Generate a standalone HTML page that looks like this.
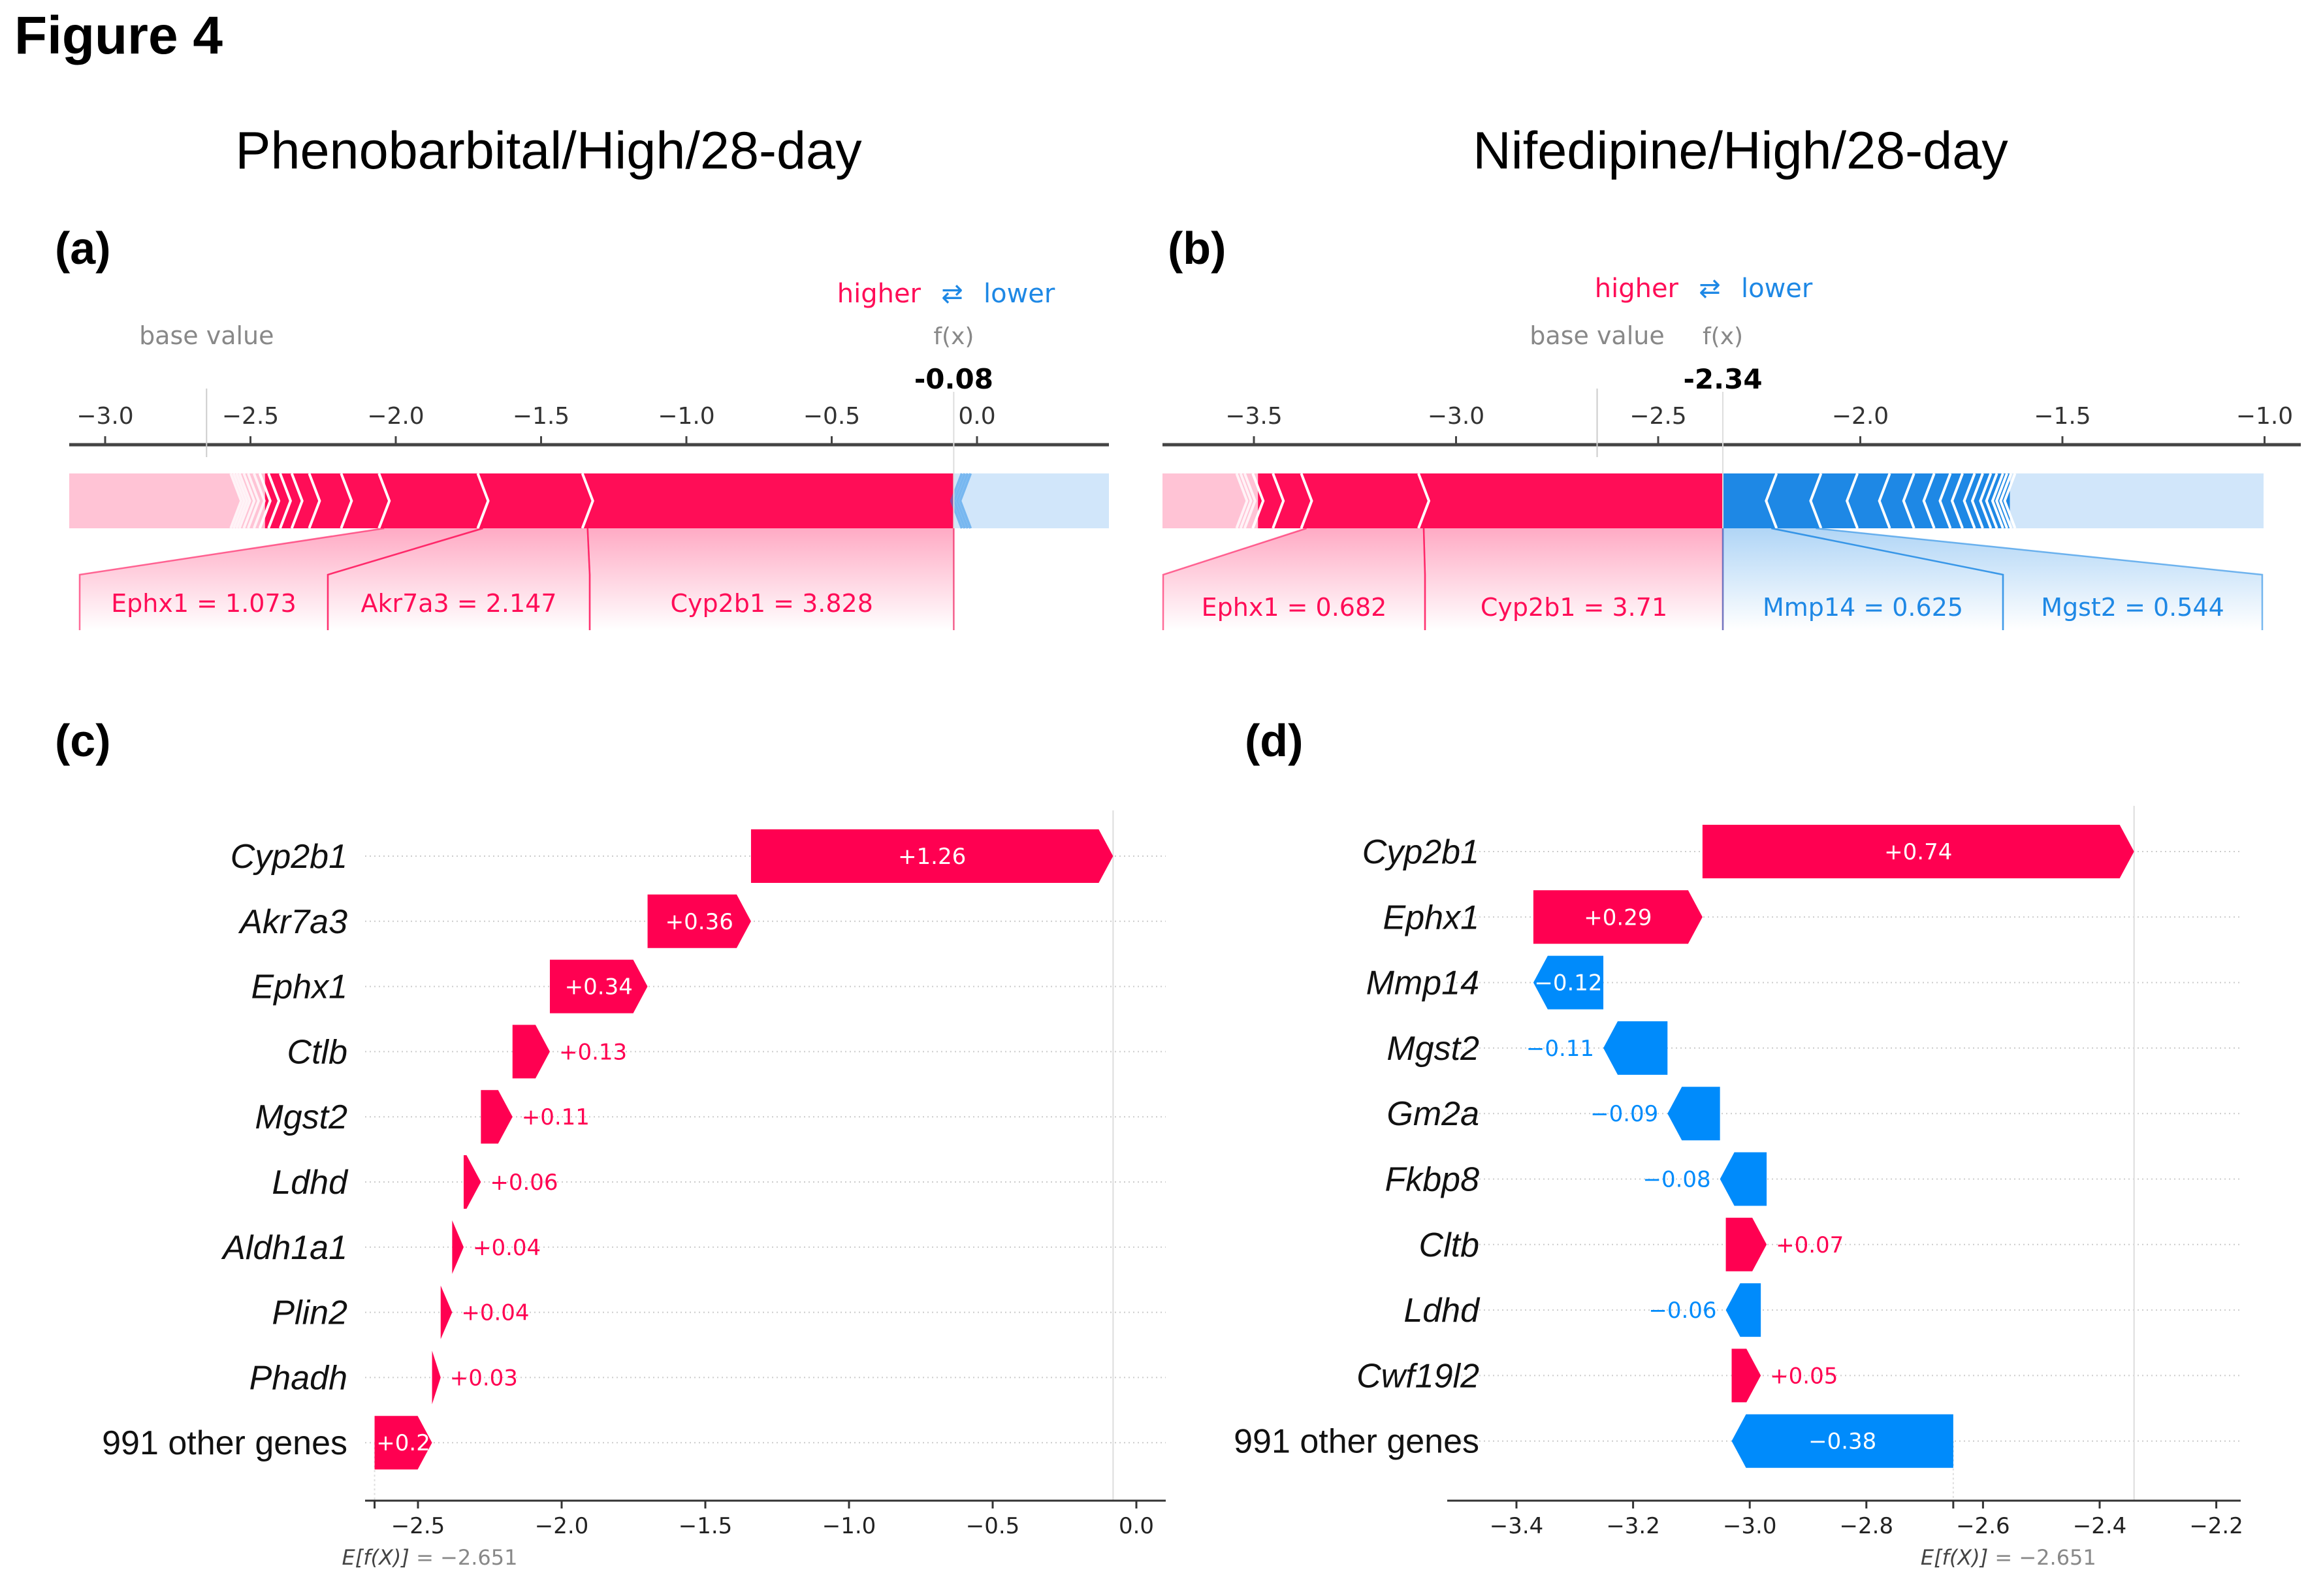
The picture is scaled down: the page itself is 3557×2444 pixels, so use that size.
<!DOCTYPE html>
<html><head><meta charset="utf-8"><style>
html,body{margin:0;padding:0;background:#fff;}
svg{display:block;}
.t{font-family:"DejaVu Sans",sans-serif;}
.h{font-family:"Liberation Sans",Arial,sans-serif;}
</style></head><body>
<svg id="fig" width="3557" height="2444" viewBox="0 0 3557 2444" xmlns="http://www.w3.org/2000/svg">
<defs>
<linearGradient id="gpink" x1="0" y1="0" x2="0" y2="1"><stop offset="0" stop-color="#ff0d57" stop-opacity="0.35"/><stop offset="1" stop-color="#ff0d57" stop-opacity="0"/></linearGradient>
<linearGradient id="gblue" x1="0" y1="0" x2="0" y2="1"><stop offset="0" stop-color="#1e88e5" stop-opacity="0.35"/><stop offset="1" stop-color="#1e88e5" stop-opacity="0"/></linearGradient>
</defs>
<text x="22" y="82" class="h" font-size="82" font-weight="bold">Figure 4</text>
<text x="840" y="258" class="h" font-size="81" text-anchor="middle">Phenobarbital/High/28-day</text>
<text x="2665" y="258" class="h" font-size="81" text-anchor="middle">Nifedipine/High/28-day</text>
<text x="84" y="404" class="h" font-size="70" font-weight="bold">(a)</text>
<text x="1788" y="404" class="h" font-size="70" font-weight="bold">(b)</text>
<text x="84" y="1158" class="h" font-size="70" font-weight="bold">(c)</text>
<text x="1906" y="1158" class="h" font-size="70" font-weight="bold">(d)</text>
<g id="pa"></g>
<g id="pb"></g>
<g id="pc"></g>
<g id="pd"></g>
</svg>
<script>
// ---- Panel (a) force plot data ----
const aBase = -2.651;
const aFx = -0.08;
const aRed = [1.26, 0.36, 0.34, 0.13, 0.11, 0.06, 0.04, 0.04, 0.03, 0.02, 0.02, 0.015, 0.015, 0.01, 0.01, 0.01];
const aBlue = [0.01, 0.01, 0.01, 0.01];
const aTicks = [-3.0, -2.5, -2.0, -1.5, -1.0, -0.5, 0.0];
const aLabels = ["Ephx1 = 1.073", "Akr7a3 = 2.147", "Cyp2b1 = 3.828"];
// ---- Panel (b) force plot data ----
const bBase = -2.651;
const bFx = -2.34;
const bRed = [0.74, 0.29, 0.07, 0.05, 0.02, 0.01, 0.01];
const bBlue = [0.12, 0.11, 0.09, 0.08, 0.06, 0.05, 0.04, 0.03, 0.03, 0.02, 0.02, 0.015, 0.015, 0.01, 0.01, 0.01];
const bTicks = [-3.5, -3.0, -2.5, -2.0, -1.5, -1.0];
const bLabels = ["Ephx1 = 0.682", "Cyp2b1 = 3.71", "Mmp14 = 0.625", "Mgst2 = 0.544"];
// ---- Panel (c) waterfall data ----
const cBase = -2.651;
const cNames = ["Cyp2b1", "Akr7a3", "Ephx1", "Ctlb", "Mgst2", "Ldhd", "Aldh1a1", "Plin2", "Phadh", "991 other genes"];
const cVals = [1.26, 0.36, 0.34, 0.13, 0.11, 0.06, 0.04, 0.04, 0.03, 0.2];
const cTicks = [-2.5, -2.0, -1.5, -1.0, -0.5, 0.0];
// ---- Panel (d) waterfall data ----
const dBase = -2.651;
const dNames = ["Cyp2b1", "Ephx1", "Mmp14", "Mgst2", "Gm2a", "Fkbp8", "Cltb", "Ldhd", "Cwf19l2", "991 other genes"];
const dVals = [0.74, 0.29, -0.12, -0.11, -0.09, -0.08, 0.07, -0.06, 0.05, -0.38];
const dTicks = [-3.4, -3.2, -3.0, -2.8, -2.6, -2.4, -2.2];

const NS = "http://www.w3.org/2000/svg";
const RED = "#ff0d57", BLUE = "#1e88e5", LPINK = "#ffc3d5", LBLUE = "#d1e6fa";
function mk(parent, tag, attrs, text) {
  const e = document.createElementNS(NS, tag);
  for (const k in attrs) e.setAttribute(k, attrs[k]);
  if (text !== undefined) e.textContent = text;
  parent.appendChild(e);
  return e;
}
function fmt(v, d) { const s = Math.abs(v).toFixed(d); return (v < 0 ? "\u2212" : "") + s; }

function force(g, o) {
  const X = v => o.x0 + (v - o.v0) * o.k;
  const top = 725, bot = 809, mid = (top + bot) / 2, dep = 16;
  let e = mk(g, "line", {x1: o.ax1, x2: o.ax2, y1: 681, y2: 681, stroke: "#444", "stroke-width": 5});
  
  
  o.ticks.forEach(t => {
    const x = X(t);
    let tk = mk(g, "line", {x1: x, x2: x, y1: 668, y2: 681, stroke: "#444", "stroke-width": 3});
    
    
    let tl = mk(g, "text", {x: x, y: 649, "text-anchor": "middle", class: "t", "font-size": 36, fill: "#333"}, fmt(t, 1));
    
    
  });
  const bx = X(o.base);
  e = mk(g, "line", {x1: bx, x2: bx, y1: 595, y2: 700, stroke: "#ccc", "stroke-width": 2});
  
  
  e = mk(g, "text", {x: bx, y: 527, "text-anchor": "middle", class: "t", "font-size": 38, fill: "#888"}, "base value");
  
  
  const fx = X(o.fx);
  e = mk(g, "text", {x: fx, y: 527, "text-anchor": "middle", class: "t", "font-size": 36, fill: "#888"}, "f(x)");
  
  
  e = mk(g, "text", {x: fx, y: 595, "text-anchor": "middle", class: "t", "font-size": 42, "font-weight": "bold", fill: "#000"}, o.fx.toFixed(2));
  
  
  e = mk(g, "text", {x: o.hlx, y: o.hly, "text-anchor": "end", class: "t", "font-size": 40, fill: RED}, "higher");
  
  
  e = mk(g, "text", {x: o.hlx + 48, y: o.hly, "text-anchor": "middle", class: "t", "font-size": 40, fill: BLUE}, "\u21c4");
  
  
  e = mk(g, "text", {x: o.hlx + 96, y: o.hly, class: "t", "font-size": 40, fill: BLUE}, "lower");
  
  
  const rb = [o.fx]; o.red.forEach(v => rb.push(rb[rb.length - 1] - v));
  const bb = [o.fx]; o.blue.forEach(v => bb.push(bb[bb.length - 1] + v));
  const redEnd = rb[o.nStrongR], blueEnd = bb[o.nStrongB];
  e = mk(g, "rect", {x: o.ax1, y: top, width: X(redEnd) - o.ax1, height: bot - top, fill: LPINK});
  
  
  e = mk(g, "rect", {x: X(blueEnd), y: top, width: o.barEnd - X(blueEnd), height: bot - top, fill: LBLUE});
  
  
  e = mk(g, "rect", {x: X(redEnd), y: top, width: fx - X(redEnd), height: bot - top, fill: RED});
  
  
  if (o.nStrongB > 0) {
    e = mk(g, "rect", {x: fx, y: top, width: X(blueEnd) - fx, height: bot - top, fill: BLUE});
    
    
  }
  rb.slice(1).forEach((v, i) => {
    const x = X(v);
    const c = mk(g, "polyline", {points: `${x - dep / 2},${top} ${x + dep / 2},${mid} ${x - dep / 2},${bot}`, fill: "none", stroke: "#fff", "stroke-opacity": i < o.nStrongR ? 1 : 0.8, "stroke-width": 4});
    
    
  });
  bb.slice(1).forEach((v, i) => {
    const x = X(v);
    const c = mk(g, "polyline", {points: `${x + dep / 2},${top} ${x - dep / 2},${mid} ${x + dep / 2},${bot}`, fill: "none", stroke: i < o.nStrongB ? "#fff" : BLUE, "stroke-opacity": i < o.nStrongB ? 1 : 0.5, "stroke-width": 4});
    
    
  });
  e = mk(g, "line", {x1: fx, x2: fx, y1: 600, y2: 965, stroke: "#ddd", "stroke-width": 2});
  
  
  o.labs.forEach(L => {
    const col = L.red ? RED : BLUE;
    const s1 = X(L.s1), s2 = X(L.s2);
    const p = mk(g, "polygon", {points: `${s1},${bot} ${s2},${bot} ${L.b2},880 ${L.b2},965 ${L.b1},965 ${L.b1},880`, fill: L.red ? "url(#gpink)" : "url(#gblue)"});
    
    
    const l1 = mk(g, "polyline", {points: `${s1},${bot} ${L.b1},880 ${L.b1},965`, fill: "none", stroke: col, "stroke-opacity": 0.6, "stroke-width": 2.5});
    
    
    const l2 = mk(g, "polyline", {points: `${s2},${bot} ${L.b2},880 ${L.b2},965`, fill: "none", stroke: col, "stroke-opacity": 0.6, "stroke-width": 2.5});
    
    
    const t = mk(g, "text", {x: (L.b1 + L.b2) / 2, y: o.labY, "text-anchor": "middle", class: "t", "font-size": 38, fill: col}, L.text);
    
    
  });
}

(function () {
  const k = 445, x0 = 1496, v0 = 0;
  const X = v => x0 + (v - v0) * k;
  const rb = [aFx]; aRed.forEach(v => rb.push(rb[rb.length - 1] - v));
  force(document.getElementById("pa"), {
    x0, v0, k, ax1: 106, ax2: 1698, barEnd: 1698, base: aBase, fx: aFx, red: aRed, blue: aBlue,
    nStrongR: 9, nStrongB: 0, ticks: aTicks, hlx: 1410, hly: 463, labY: 937,
    labs: [
      {s1: rb[3], s2: rb[2], b1: 122, b2: 502, red: true, text: aLabels[0]},
      {s1: rb[2], s2: rb[1], b1: 502, b2: 903, red: true, text: aLabels[1]},
      {s1: rb[1], s2: rb[0], b1: 903, b2: X(aFx), red: true, text: aLabels[2]}
    ]
  });
})();
(function () {
  const k = 619, x0 = 1920, v0 = -3.5;
  const X = v => x0 + (v - v0) * k;
  const rb = [bFx]; bRed.forEach(v => rb.push(rb[rb.length - 1] - v));
  const bb = [bFx]; bBlue.forEach(v => bb.push(bb[bb.length - 1] + v));
  force(document.getElementById("pb"), {
    x0, v0, k, ax1: 1780, ax2: 3523, barEnd: 3466, base: bBase, fx: bFx, red: bRed, blue: bBlue,
    nStrongR: 4, nStrongB: bBlue.length, ticks: bTicks, hlx: 2570, hly: 455, labY: 943,
    labs: [
      {s1: rb[2], s2: rb[1], b1: 1781, b2: 2182, red: true, text: bLabels[0]},
      {s1: rb[1], s2: rb[0], b1: 2182, b2: X(bFx), red: true, text: bLabels[1]},
      {s1: bb[0], s2: bb[1], b1: X(bFx), b2: 3067, red: false, text: bLabels[2]},
      {s1: bb[1], s2: bb[2], b1: 3067, b2: 3464, red: false, text: bLabels[3]}
    ]
  });
})();

function waterfall(g, o) {
  const X = v => o.x0 + (v - o.v0) * o.k;
  const Y = i => o.y0 + i * o.step;
  const n = o.names.length;
  const starts = new Array(n);
  let cur = o.base;
  for (let i = n - 1; i >= 0; i--) { starts[i] = cur; cur += o.vals[i]; }
  const fin = cur;
  for (let i = 0; i < n; i++) {
    const gl = mk(g, "line", {x1: o.ax1, x2: o.ax2, y1: Y(i), y2: Y(i), stroke: "#ccc", "stroke-width": 2, "stroke-dasharray": "2,5"});
    
    
  }
  let e = mk(g, "line", {x1: X(fin), x2: X(fin), y1: Y(0) - 70, y2: o.axY, stroke: "#ddd", "stroke-width": 2});
  
  
  e = mk(g, "line", {x1: X(o.base), x2: X(o.base), y1: Y(n - 1), y2: o.axY, stroke: "#ddd", "stroke-width": 2, "stroke-dasharray": "3,4"});
  
  
  const h = 82;
  for (let i = 0; i < n; i++) {
    const v = o.vals[i], a = X(starts[i]), b = X(starts[i] + v), y = Y(i);
    const w = Math.abs(b - a), hd = Math.min(22, w);
    const col = v >= 0 ? "#ff0051" : "#008bfb";
    let pts;
    if (v >= 0) pts = `${a},${y - h / 2} ${b - hd},${y - h / 2} ${b},${y} ${b - hd},${y + h / 2} ${a},${y + h / 2}`;
    else pts = `${a},${y - h / 2} ${b + hd},${y - h / 2} ${b},${y} ${b + hd},${y + h / 2} ${a},${y + h / 2}`;
    const bar = mk(g, "polygon", {points: pts, fill: col});
    
    
    const txt = (v >= 0 ? "+" : "\u2212") + Math.abs(v).toString();
    const inside = txt.length * 19 + 10 < w;
    let tx, anchor, fill;
    if (inside) { tx = (a + b) / 2; anchor = "middle"; fill = "#fff"; }
    else if (v >= 0) { tx = b + 14; anchor = "start"; fill = col; }
    else { tx = b - 14; anchor = "end"; fill = col; }
    const vl = mk(g, "text", {x: tx, y: y + 12, "text-anchor": anchor, class: "t", "font-size": 34, fill: fill}, txt);
    
    
    const other = i === n - 1;
    const nl = mk(g, "text", {x: o.labX, y: y + 18, "text-anchor": "end", class: "h", "font-size": 52, "font-style": other ? "normal" : "italic", fill: "#111"}, o.names[i]);
    
    
  }
  e = mk(g, "line", {x1: o.ax1, x2: o.ax2, y1: o.axY, y2: o.axY, stroke: "#333", "stroke-width": 3});
  
  
  o.ticks.forEach(t => {
    const x = X(t);
    const tk = mk(g, "line", {x1: x, x2: x, y1: o.axY, y2: o.axY + 12, stroke: "#333", "stroke-width": 3});
    
    
    const tl = mk(g, "text", {x: x, y: o.axY + 50, "text-anchor": "middle", class: "t", "font-size": 34, fill: "#222"}, fmt(t, 1));
    
    
  });
  const bt = mk(g, "line", {x1: X(o.base), x2: X(o.base), y1: o.axY, y2: o.axY + 12, stroke: "#333", "stroke-width": 3});
  
  
  const el = mk(g, "text", {x: X(o.base) - 50, y: o.axY + 98, class: "t", "font-size": 32, fill: "#888"});
  
  
  mk(el, "tspan", {"font-style": "italic", fill: "#444"}, "E[f(X)]");
  mk(el, "tspan", {}, " = \u2212" + Math.abs(o.base).toFixed(3));
}
waterfall(document.getElementById("pc"), {
  names: cNames, vals: cVals, base: cBase, ticks: cTicks,
  x0: 1740, v0: 0, k: 440, y0: 1311, step: 99.8, ax1: 559, ax2: 1785, axY: 2298, labX: 532
});
waterfall(document.getElementById("pd"), {
  names: dNames, vals: dVals, base: dBase, ticks: dTicks,
  x0: 2322, v0: -3.4, k: 893, y0: 1304, step: 100.3, ax1: 2216, ax2: 3431, axY: 2298, labX: 2265
});
</script>
</body></html>
